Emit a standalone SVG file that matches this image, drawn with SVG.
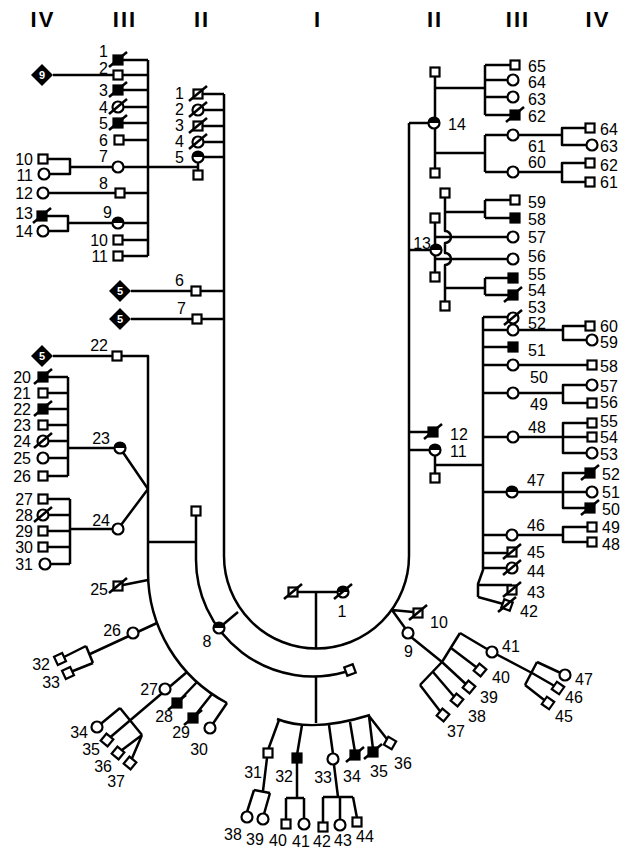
<svg xmlns="http://www.w3.org/2000/svg" xmlns:xlink="http://www.w3.org/1999/xlink" width="631" height="852" viewBox="0 0 631 852">
<style>
.ln{stroke:#000;stroke-width:2.5;fill:none;stroke-linejoin:round}
.s{fill:#fff;stroke:#000;stroke-width:2.2}
.f{fill:#000;stroke:#000;stroke-width:2.2}
text{font-family:"Liberation Sans",Arial,sans-serif;font-size:16px;fill:#000}
.e{text-anchor:end}
.m{text-anchor:middle}
.hd{font-size:22px;font-weight:bold;letter-spacing:2px;text-anchor:middle}
.dn{fill:#fff;font-size:11px;font-weight:bold;text-anchor:middle}
</style>
<defs>
<rect id="sq" x="-4.5" y="-4.5" width="9" height="9" class="s"/>
<rect id="sqf" x="-4.5" y="-4.5" width="9" height="9" class="f"/>
<circle id="ci" r="5.5" class="s"/>
<g id="cih"><circle r="5.5" class="s"/><path d="M-5.5,0A5.5,5.5 0 0 1 5.5,0Z" fill="#000"/></g>
<line id="sl" x1="-9" y1="7" x2="9" y2="-8" class="ln"/>
<path id="dm" d="M0,-11L11,0L0,11L-11,0Z" fill="#000"/>
</defs>
<rect width="631" height="852" fill="#fff"/>
<g id="headers">
<text class="hd" x="43" y="27">IV</text>
<text class="hd" x="125" y="27">III</text>
<text class="hd" x="202" y="27">II</text>
<text class="hd" x="318" y="27">I</text>
<text class="hd" x="435" y="27">II</text>
<text class="hd" x="518" y="27">III</text>
<text class="hd" x="598" y="27">IV</text>
</g>
<g id="connectors" class="ln">
<path d="M224,94V556A92.5,92.5 0 0 0 409,556V123"/>
<path d="M298,592H337M316,592V649"/>
<path d="M196,516V559A117,117 0 0 0 345,672"/>
<path d="M196,542H148"/>
<path d="M316,676V723"/>
<path d="M53,356H148V572A148,148 0 0 0 227,703"/>
<path d="M219,628L238,612"/>
<path d="M392,610L413,612M392,610L405,628M411,637L442,662"/>
<path d="M203,94H224M204,110H224M203,126H224M204,142H224M204,157H224M198,163V170M148,167H198M131,291H224M131,319H224"/>
<path d="M148,60V256M123,60H148M53,75H148M123,90H148M124,107H148M123,123H148M124,140H148M70,167H148M48,193H148M68,223H148M123,240H148M123,256H148"/>
<path d="M48,159H70V174H49M47,216H68V231H49"/>
<path d="M68,377V476M48,377H68M48,393H68M48,409H68M48,425H68M49,441H68M49,458H68M48,476H68M68,448H120"/>
<path d="M120,448L148,489M118,529L148,489"/>
<path d="M70,499V564M48,499H70M49,515H70M48,531H70M48,547H70M50,564H70M70,529H118"/>
<path d="M148,580L118,586"/>
<path d="M157,623L90,654M86,646L93,663M86,646L60,659M93,663L68,673"/>
<path d="M187,672L107,740M120,708L142,735M120,708L97,727M142,735L118,753M142,735L130,763"/>
<path d="M197,682L177,703M212,694L193,718M227,703L210,728"/>
<path d="M277,719Q312,733 370,715"/>
<path d="M279,720L268,750M302,725L297,755M329,725L333,754M350,722L355,752M369,716L373,749M369,716L390,743"/>
<path d="M267,758L263,791M254,790L270,793M254,790L247,812M270,793L264,814"/>
<path d="M297,762V798M286,798H304M286,798V820M304,798V820"/>
<path d="M334,765L338,797M323,797H353M323,797V823M340,797V820M353,797L357,818"/>
<path d="M409,123H433M435,72V173"/>
<path d="M435,88H485M485,65V115M485,65H515M485,80H513M485,97H513M485,115H515"/>
<path d="M435,153H485M485,135V172M485,135H562M485,172H562M590,128H562V145H592M590,163H562V182H590"/>
<path d="M409,250H436M435,218V277"/>
<path d="M445,193V231A6,6 0 0 1 445,243V253A6,6 0 0 1 445,265V306"/>
<path d="M445,212H485M485,200V218M485,200H515M485,218H515"/>
<path d="M435,237H513M435,259H513"/>
<path d="M445,288H485M485,278V295M485,278H513M485,295H513"/>
<path d="M409,432H433M409,450H435M435,450V478M435,465H483"/>
<path d="M483,317V570L478,584V597"/>
<path d="M483,317H513M483,330H513M519,330H563M590,326H563V340H592"/>
<path d="M483,347H513M483,365H592"/>
<path d="M483,393H513M519,393H563M592,385H563V403H592"/>
<path d="M483,437H513M519,437H592M592,423H563V453H592"/>
<path d="M483,492H592M590,473H563V508H590"/>
<path d="M483,535H512M518,535H563M592,527H563V542H592"/>
<path d="M483,553H512M483,568H512M478,585H512M478,597L507,605"/>
<path d="M460,633L442,662L420,685M460,633L492,652L532,673M451,648L480,670M442,662L469,687M433,672L457,700M420,685L443,715"/>
<path d="M537,662L525,685M537,662L565,675M532,673L558,688M525,685L548,703"/>
</g>
<g id="I-1m"><use href="#sq" x="293" y="592"/><use href="#sl" x="293" y="592"/></g>
<g id="I-1f"><use href="#cih" x="343" y="592"/><use href="#sl" x="343" y="592"/><text class="m" x="342" y="617">1</text></g>
<g id="L2-1"><use href="#sq" x="198" y="94"/><use href="#sl" x="198" y="94"/><text class="e" x="184" y="99">1</text></g>
<g id="L2-2"><use href="#ci" x="198" y="110"/><use href="#sl" x="198" y="110"/><text class="e" x="184" y="115">2</text></g>
<g id="L2-3"><use href="#sq" x="198" y="126"/><use href="#sl" x="198" y="126"/><text class="e" x="184" y="131">3</text></g>
<g id="L2-4"><use href="#ci" x="198" y="142"/><use href="#sl" x="198" y="142"/><text class="e" x="184" y="147">4</text></g>
<g id="L2-5"><use href="#cih" x="198" y="157"/><text class="e" x="184" y="163">5</text></g>
<g id="L2-5s"><use href="#sq" x="198" y="175"/></g>
<g id="L2-6"><use href="#sq" x="196" y="291"/><text class="e" x="184" y="286">6</text></g>
<g id="L2-6c"><use href="#dm" x="120" y="291"/><text class="dn" x="120" y="295">5</text></g>
<g id="L2-7"><use href="#sq" x="197" y="319"/><text class="e" x="186" y="314">7</text></g>
<g id="L2-7c"><use href="#dm" x="120" y="319"/><text class="dn" x="120" y="323">5</text></g>
<g id="L2-8"><use href="#cih" x="219" y="628"/><text class="m" x="207" y="647">8</text></g>
<g id="L2-8s1"><use href="#sq" x="196" y="511"/></g>
<g id="L2-8s2"><use href="#sq" transform="translate(350,670) rotate(-20)"/></g>
<g id="L3-1"><use href="#sqf" x="118" y="60"/><use href="#sl" x="118" y="60"/><text class="e" x="108" y="57">1</text></g>
<g id="L3-2"><use href="#sq" x="118" y="75"/><text class="e" x="108" y="74">2</text></g>
<g id="L3-2c"><use href="#dm" x="42" y="75"/><text class="dn" x="42" y="79">9</text></g>
<g id="L3-3"><use href="#sqf" x="118" y="90"/><use href="#sl" x="118" y="90"/><text class="e" x="108" y="96">3</text></g>
<g id="L3-4"><use href="#ci" x="118" y="107"/><use href="#sl" x="118" y="107"/><text class="e" x="108" y="113">4</text></g>
<g id="L3-5"><use href="#sqf" x="118" y="123"/><use href="#sl" x="118" y="123"/><text class="e" x="108" y="129">5</text></g>
<g id="L3-6"><use href="#sq" x="119" y="140"/><text class="e" x="108" y="146">6</text></g>
<g id="L3-7"><use href="#ci" x="118" y="167"/><text class="e" x="108" y="162">7</text></g>
<g id="L3-8"><use href="#sq" x="120" y="193"/><text class="e" x="108" y="189">8</text></g>
<g id="L3-9"><use href="#cih" x="118" y="223"/><text class="e" x="112" y="218">9</text></g>
<g id="L3-10"><use href="#sq" x="118" y="240"/><text class="e" x="108" y="246">10</text></g>
<g id="L3-11"><use href="#sq" x="118" y="256"/><text class="e" x="108" y="262">11</text></g>
<g id="L4-10"><use href="#sq" x="43" y="159"/><text class="e" x="33" y="165">10</text></g>
<g id="L4-11"><use href="#ci" x="44" y="174"/><text class="e" x="33" y="181">11</text></g>
<g id="L4-12"><use href="#ci" x="43" y="193"/><text class="e" x="33" y="199">12</text></g>
<g id="L4-13"><use href="#sqf" x="42" y="216"/><use href="#sl" x="42" y="216"/><text class="e" x="33" y="219">13</text></g>
<g id="L4-14"><use href="#ci" x="43" y="231"/><text class="e" x="33" y="237">14</text></g>
<g id="L3-22"><use href="#sq" x="117" y="356"/><text class="e" x="108" y="351">22</text></g>
<g id="L3-22c"><use href="#dm" x="42" y="356"/><text class="dn" x="42" y="360">5</text></g>
<g id="L3-23"><use href="#cih" x="120" y="448"/><text class="e" x="110" y="444">23</text></g>
<g id="L3-24"><use href="#ci" x="118" y="529"/><text class="e" x="110" y="526">24</text></g>
<g id="L3-25"><use href="#sq" x="118" y="586"/><use href="#sl" x="118" y="586"/><text class="e" x="108" y="595">25</text></g>
<g id="L3-26"><use href="#ci" x="133" y="633"/><text class="e" x="121" y="636">26</text></g>
<g id="L3-27"><use href="#ci" x="165" y="689"/><text class="e" x="158" y="695">27</text></g>
<g id="L3-28"><use href="#sqf" x="177" y="703"/><use href="#sl" x="177" y="703"/><text class="e" x="173" y="722">28</text></g>
<g id="L3-29"><use href="#sqf" x="193" y="718"/><use href="#sl" x="193" y="718"/><text class="e" x="190" y="738">29</text></g>
<g id="L3-30"><use href="#ci" x="210" y="728"/><text class="e" x="208" y="755">30</text></g>
<g id="L4-20"><use href="#sqf" x="43" y="377"/><use href="#sl" x="43" y="377"/><text class="e" x="31" y="383">20</text></g>
<g id="L4-21"><use href="#sq" x="43" y="393"/><text class="e" x="31" y="399">21</text></g>
<g id="L4-22"><use href="#sqf" x="43" y="409"/><use href="#sl" x="43" y="409"/><text class="e" x="31" y="415">22</text></g>
<g id="L4-23"><use href="#sq" x="43" y="425"/><text class="e" x="31" y="431">23</text></g>
<g id="L4-24"><use href="#ci" x="43" y="441"/><use href="#sl" x="43" y="441"/><text class="e" x="31" y="447">24</text></g>
<g id="L4-25"><use href="#ci" x="43" y="458"/><text class="e" x="31" y="464">25</text></g>
<g id="L4-26"><use href="#sq" x="43" y="476"/><text class="e" x="31" y="482">26</text></g>
<g id="L4-27"><use href="#sq" x="43" y="499"/><text class="e" x="33" y="505">27</text></g>
<g id="L4-28"><use href="#ci" x="43" y="515"/><use href="#sl" x="43" y="515"/><text class="e" x="33" y="521">28</text></g>
<g id="L4-29"><use href="#sq" x="43" y="531"/><text class="e" x="33" y="537">29</text></g>
<g id="L4-30"><use href="#sq" x="43" y="547"/><text class="e" x="33" y="553">30</text></g>
<g id="L4-31"><use href="#ci" x="45" y="564"/><text class="e" x="33" y="570">31</text></g>
<g id="L4-32"><use href="#sq" transform="translate(60,659) rotate(-25)"/><text class="e" x="50" y="670">32</text></g>
<g id="L4-33"><use href="#sq" transform="translate(68,673) rotate(-25)"/><text class="e" x="60" y="688">33</text></g>
<g id="L4-34"><use href="#ci" x="97" y="727"/><text class="e" x="88" y="738">34</text></g>
<g id="L4-35"><use href="#sq" transform="translate(107,740) rotate(40)"/><text class="e" x="100" y="755">35</text></g>
<g id="L4-36"><use href="#sq" transform="translate(118,753) rotate(40)"/><text class="e" x="112" y="772">36</text></g>
<g id="L4-37"><use href="#sq" transform="translate(130,763) rotate(40)"/><text class="e" x="125" y="787">37</text></g>
<g id="B3-31"><use href="#sq" x="268" y="753"/><text class="e" x="262" y="778">31</text></g>
<g id="B3-32"><use href="#sqf" x="297" y="758"/><text class="e" x="293" y="782">32</text></g>
<g id="B3-33"><use href="#ci" x="333" y="759"/><text class="e" x="332" y="783">33</text></g>
<g id="B3-34"><use href="#sqf" x="355" y="755"/><use href="#sl" x="355" y="755"/><text x="343" y="782">34</text></g>
<g id="B3-35"><use href="#sqf" x="373" y="752"/><use href="#sl" x="373" y="752"/><text x="370" y="777">35</text></g>
<g id="B3-36"><use href="#sq" transform="translate(390,743) rotate(30)"/><text x="394" y="769">36</text></g>
<g id="B4-38"><use href="#ci" x="247" y="817"/><text x="224" y="840">38</text></g>
<g id="B4-39"><use href="#ci" x="263" y="819"/><text x="246" y="845">39</text></g>
<g id="B4-40"><use href="#sq" x="286" y="824"/><text x="269" y="846">40</text></g>
<g id="B4-41"><use href="#ci" x="304" y="824"/><text x="292" y="847">41</text></g>
<g id="B4-42"><use href="#sq" x="323" y="827"/><text x="313" y="847">42</text></g>
<g id="B4-43"><use href="#ci" x="340" y="825"/><text x="334" y="846">43</text></g>
<g id="B4-44"><use href="#sq" x="357" y="822"/><text x="356" y="842">44</text></g>
<g id="R2-9"><use href="#ci" x="408" y="633"/><text x="404" y="657">9</text></g>
<g id="R2-10"><use href="#sq" x="418" y="613"/><use href="#sl" x="418" y="613"/><text x="430" y="628">10</text></g>
<g id="R2-11"><use href="#cih" x="435" y="450"/><text x="450" y="457">11</text></g>
<g id="R2-11s"><use href="#sq" x="435" y="478"/></g>
<g id="R2-12"><use href="#sqf" x="433" y="432"/><use href="#sl" x="433" y="432"/><text x="450" y="440">12</text></g>
<g id="R2-13"><use href="#cih" x="436" y="250"/><text class="e" x="431" y="249">13</text></g>
<g id="R2-13s1"><use href="#sq" x="445" y="193"/></g>
<g id="R2-13s2"><use href="#sq" x="435" y="218"/></g>
<g id="R2-13s3"><use href="#sq" x="435" y="277"/></g>
<g id="R2-13s4"><use href="#sq" x="445" y="306"/></g>
<g id="R2-14"><use href="#cih" x="434" y="123"/><text x="448" y="130">14</text></g>
<g id="R2-14s1"><use href="#sq" x="435" y="72"/></g>
<g id="R2-14s2"><use href="#sq" x="435" y="173"/></g>
<g id="R3-65"><use href="#sq" x="515" y="65"/><text x="528" y="72">65</text></g>
<g id="R3-64"><use href="#ci" x="513" y="80"/><text x="528" y="88">64</text></g>
<g id="R3-63"><use href="#ci" x="513" y="97"/><text x="528" y="105">63</text></g>
<g id="R3-62"><use href="#sqf" x="515" y="115"/><use href="#sl" x="515" y="115"/><text x="528" y="122">62</text></g>
<g id="R3-61"><use href="#ci" x="513" y="135"/><text x="528" y="152">61</text></g>
<g id="R3-60"><use href="#ci" x="513" y="172"/><text x="528" y="168">60</text></g>
<g id="R4-64"><use href="#sq" x="590" y="128"/><text x="600" y="135">64</text></g>
<g id="R4-63"><use href="#ci" x="592" y="145"/><text x="600" y="152">63</text></g>
<g id="R4-62"><use href="#sq" x="590" y="163"/><text x="600" y="171">62</text></g>
<g id="R4-61"><use href="#sq" x="590" y="182"/><text x="600" y="188">61</text></g>
<g id="R3-59"><use href="#sq" x="515" y="200"/><text x="528" y="208">59</text></g>
<g id="R3-58"><use href="#sqf" x="515" y="218"/><text x="528" y="225">58</text></g>
<g id="R3-57"><use href="#ci" x="513" y="237"/><text x="528" y="243">57</text></g>
<g id="R3-56"><use href="#ci" x="513" y="259"/><text x="528" y="262">56</text></g>
<g id="R3-55"><use href="#sqf" x="513" y="278"/><text x="528" y="280">55</text></g>
<g id="R3-54"><use href="#sqf" x="513" y="295"/><use href="#sl" x="513" y="295"/><text x="528" y="296">54</text></g>
<g id="R3-53"><use href="#ci" x="513" y="318"/><use href="#sl" x="513" y="318"/><text x="528" y="313">53</text></g>
<g id="R3-52"><use href="#ci" x="513" y="330"/><text x="528" y="329">52</text></g>
<g id="R3-51"><use href="#sqf" x="513" y="347"/><text x="528" y="356">51</text></g>
<g id="R3-50"><use href="#ci" x="513" y="365"/><text x="530" y="383">50</text></g>
<g id="R3-49"><use href="#ci" x="513" y="393"/><text x="530" y="410">49</text></g>
<g id="R3-48"><use href="#ci" x="513" y="437"/><text x="528" y="433">48</text></g>
<g id="R3-47"><use href="#cih" x="512" y="492"/><text x="527" y="486">47</text></g>
<g id="R3-46"><use href="#ci" x="512" y="535"/><text x="527" y="531">46</text></g>
<g id="R3-45"><use href="#sq" x="512" y="552"/><use href="#sl" x="512" y="552"/><text x="527" y="558">45</text></g>
<g id="R3-44"><use href="#ci" x="512" y="568"/><use href="#sl" x="512" y="568"/><text x="527" y="577">44</text></g>
<g id="R3-43"><use href="#sq" x="512" y="590"/><use href="#sl" x="512" y="590"/><text x="527" y="598">43</text></g>
<g id="R3-42"><use href="#sq" transform="translate(507,605) rotate(20)"/><use href="#sl" x="507" y="605"/><text x="520" y="617">42</text></g>
<g id="R4-60"><use href="#sq" x="590" y="326"/><text x="600" y="332">60</text></g>
<g id="R4-59"><use href="#ci" x="592" y="340"/><text x="600" y="348">59</text></g>
<g id="R4-58"><use href="#sq" x="592" y="365"/><text x="600" y="372">58</text></g>
<g id="R4-57"><use href="#ci" x="592" y="385"/><text x="600" y="392">57</text></g>
<g id="R4-56"><use href="#sq" x="592" y="403"/><text x="600" y="408">56</text></g>
<g id="R4-55"><use href="#sq" x="592" y="423"/><text x="600" y="427">55</text></g>
<g id="R4-54"><use href="#sq" x="592" y="437"/><text x="600" y="443">54</text></g>
<g id="R4-53"><use href="#ci" x="592" y="453"/><text x="600" y="460">53</text></g>
<g id="R4-52"><use href="#sqf" x="590" y="473"/><use href="#sl" x="590" y="473"/><text x="602" y="480">52</text></g>
<g id="R4-51"><use href="#ci" x="592" y="492"/><text x="602" y="498">51</text></g>
<g id="R4-50"><use href="#sqf" x="590" y="508"/><use href="#sl" x="590" y="508"/><text x="602" y="515">50</text></g>
<g id="R4-49"><use href="#sq" x="592" y="527"/><text x="602" y="533">49</text></g>
<g id="R4-48"><use href="#sq" x="592" y="542"/><text x="602" y="550">48</text></g>
<g id="R3-41"><use href="#ci" x="492" y="652"/><text x="502" y="652">41</text></g>
<g id="R3-40"><use href="#sq" transform="translate(480,670) rotate(40)"/><text x="492" y="683">40</text></g>
<g id="R3-39"><use href="#sq" transform="translate(469,687) rotate(40)"/><text x="480" y="703">39</text></g>
<g id="R3-38"><use href="#sq" transform="translate(457,700) rotate(40)"/><text x="468" y="722">38</text></g>
<g id="R3-37"><use href="#sq" transform="translate(443,715) rotate(40)"/><text x="447" y="737">37</text></g>
<g id="R4-47"><use href="#ci" x="565" y="675"/><text x="575" y="685">47</text></g>
<g id="R4-46"><use href="#sq" transform="translate(558,688) rotate(35)"/><text x="565" y="703">46</text></g>
<g id="R4-45"><use href="#sq" transform="translate(548,703) rotate(35)"/><text x="555" y="722">45</text></g>
</svg>
